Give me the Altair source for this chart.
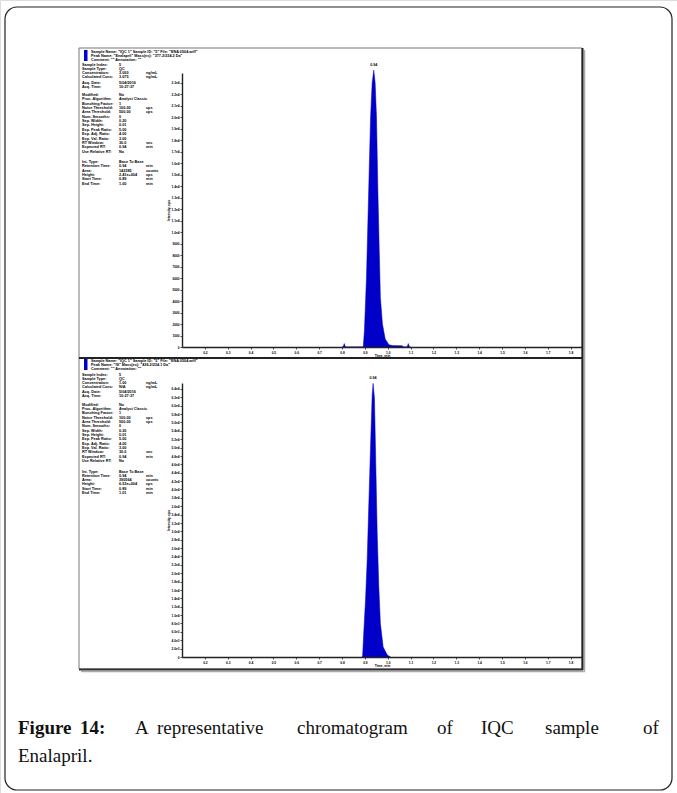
import altair as alt
import pandas as pd

W, H = 677, 793

# ---------------- data ----------------
x_ticks = [0.2, 0.3, 0.4, 0.5, 0.6, 0.7, 0.8, 0.9, 1.0, 1.1, 1.2, 1.3, 1.4, 1.5, 1.6, 1.7, 1.8]
y_ticks_top = [0, 1000, 2000, 3000, 4000, 5000, 6000, 7000, 8000, 9000, 10000, 11000,
               12000, 13000, 14000, 15000, 16000, 17000, 18000, 19000, 20000, 21000, 22000, 23000]
y_ticks_bot = [0, 2000, 4000, 6000, 8000, 10000, 12000, 14000, 16000, 18000, 20000, 22000,
               24000, 26000, 28000, 30000, 32000, 34000, 36000, 38000, 40000, 42000, 44000,
               46000, 48000, 50000, 52000, 54000, 56000, 58000, 60000, 62000, 64000]

top_time = [0.800, 0.805, 0.810, 0.815, 0.888, 0.893, 0.898, 0.907, 0.913, 0.919, 0.925,
            0.932, 0.939, 0.945, 0.951, 0.957, 0.963, 0.968, 0.977, 0.989, 1.005, 1.020,
            1.064, 1.070, 1.085, 1.090, 1.095, 1.100]
top_int = [0, 0, 300, 0, 0, 0, 1400, 6000, 10700, 15400, 20000,
           23000, 24100, 23000, 20000, 13600, 8400, 4300, 2000, 700, 200, 120,
           100, 0, 0, 300, 0, 0]

bot_time = [0.886, 0.890, 0.895, 0.903, 0.910, 0.917, 0.925, 0.932, 0.936, 0.942, 0.948,
            0.954, 0.961, 0.968, 0.980, 0.998, 1.012]
bot_int = [0, 0, 5600, 13700, 23000, 36000, 50500, 62500, 65300, 61800, 45700,
           29600, 16800, 8000, 2400, 500, 0]

peak_top = {"t": [0.939], "v": [24100], "label": ["0.94"]}
peak_bot = {"t": [0.936], "v": [65300], "label": ["0.94"]}

header_top = [
    'Sample Name: "IQC 1"  Sample ID: "5"  File: "ENA 0504.wiff"',
    'Peak Name: "Enalapril"  Mass(es): "377.2/234.2 Da"',
    'Comment: ""  Annotation: ""',
]
header_bot = [
    'Sample Name: "IQC 1"  Sample ID: "5"  File: "ENA 0504.wiff"',
    'Peak Name: "IS"  Mass(es): "436.2/234.1 Da"',
    'Comment: ""  Annotation: ""',
]
g1_labels = ["Sample Index:", "Sample Type:", "Concentration:", "Calculated Conc:", "Acq. Date:", "Acq. Time:"]
g1_top = ["5", "QC", "3.000", "3.075", "5/04/2016", "10:27:37"]
g1_bot = ["5", "QC", "1.00", "N/A", "5/04/2016", "10:27:37"]
g1_units = ["", "", "ng/mL", "ng/mL", "", ""]

g2_labels = ["Modified:", "Proc. Algorithm:", "Bunching Factor:", "Noise Threshold:", "Area Threshold:",
             "Num. Smooths:", "Sep. Width:", "Sep. Height:", "Exp. Peak Ratio:", "Exp. Adj. Ratio:",
             "Exp. Val. Ratio:", "RT Window:", "Expected RT:", "Use Relative RT:"]
g2_vals = ["No", "Analyst Classic", "1", "100.00", "500.00", "0", "0.20", "0.01", "5.00", "4.00",
           "3.00", "30.0", "0.94", "No"]
g2_units = ["", "", "", "cps", "cps", "", "", "", "", "", "", "sec", "min", ""]

g3_labels = ["Int. Type:", "Retention Time:", "Area:", "Height:", "Start Time:", "End Time:"]
g3_top = ["Base To Base", "0.94", "142385", "2.41e+004", "0.89", "1.00"]
g3_bot = ["Base To Base", "0.94", "390564", "6.53e+004", "0.89", "1.01"]
g3_units = ["", "min", "counts", "cps", "min", "min"]

cap_words_1 = ["Figure", "14:", "A", "representative", "chromatogram", "of", "IQC", "sample", "of"]
cap_bold_1 = [True, True, False, False, False, False, False, False, False]
cap_line_2 = "Enalapril."

BLUE = "#0000C8"
one = pd.DataFrame({"k": [0]})


# ---------------- helpers ----------------
def rect(x, x2, y, y2, **kw):
    return alt.Chart(one).mark_rect(**kw).encode(
        x=alt.value(x), x2=alt.value(x2), y=alt.value(y), y2=alt.value(y2))


def hrule(x, x2, y, color, w):
    return alt.Chart(one).mark_rule(color=color, strokeWidth=w).encode(
        x=alt.value(x), x2=alt.value(x2), y=alt.value(y))


def vrule(x, y, y2, color, w):
    return alt.Chart(one).mark_rule(color=color, strokeWidth=w).encode(
        x=alt.value(x), y=alt.value(y), y2=alt.value(y2))


def sidebar(header, vals1, vals3, dy):
    rows = []
    for i, s in enumerate(header):
        rows.append({"px": 91, "py": 51.5 + 4.0 * i + dy, "s": s})
    g1_y = [65, 69.1, 73.2, 77.3, 82.7, 86.8]
    for i in range(len(g1_labels)):
        y = g1_y[i] + dy
        rows += [{"px": 82, "py": y, "s": g1_labels[i]},
                 {"px": 119, "py": y, "s": vals1[i]},
                 {"px": 146, "py": y, "s": g1_units[i]}]
    for i in range(len(g2_labels)):
        y = 95 + 4.35 * i + dy
        rows += [{"px": 82, "py": y, "s": g2_labels[i]},
                 {"px": 119, "py": y, "s": g2_vals[i]},
                 {"px": 146, "py": y, "s": g2_units[i]}]
    for i in range(len(g3_labels)):
        y = 162 + 4.3 * i + dy
        rows += [{"px": 82, "py": y, "s": g3_labels[i]},
                 {"px": 119, "py": y, "s": vals3[i]},
                 {"px": 146, "py": y, "s": g3_units[i]}]
    df = pd.DataFrame([r for r in rows if r["s"]])
    return alt.Chart(df).mark_text(
        align="left", baseline="middle", fontSize=3.8, fontWeight="bold",
        font="Liberation Sans", color="#000").encode(
        x=alt.X("px:Q", scale=None, axis=None),
        y=alt.Y("py:Q", scale=None, axis=None),
        text="s:N")


def axis_common(**kw):
    base = dict(grid=False, labelFontSize=3.2, labelFont="Liberation Sans", labelFontWeight="bold",
                labelColor="#000", titleFontSize=3.4, titleFont="Liberation Sans",
                titleFontWeight="bold", titleColor="#000", domainColor="#222", domainWidth=1.4,
                tickColor="#222", tickWidth=0.8, tickSize=2, labelPadding=1,
                labelOverlap=False, labelFlush=False, zindex=2)
    base.update(kw)
    return alt.Axis(**base)


def panel(times, ints, peak, yticks, ymax, y0, ytop, label_expr):
    df = pd.DataFrame({"t": times, "v": ints})
    xs = alt.Scale(domain=[0.1, 1.85], range=[182, 582], nice=False, zero=False)
    ys = alt.Scale(domain=[0, ymax], range=[y0, ytop], nice=False)
    x_enc = alt.X("t:Q", scale=xs, axis=axis_common(
        orient="bottom", offset=y0 - H, values=x_ticks, format=".1f",
        title="Time, min", titlePadding=0))
    y_enc = alt.Y("v:Q", scale=ys, axis=axis_common(
        orient="left", offset=-182, values=yticks, labelExpr=label_expr,
        title="Intensity, cps", titlePadding=1))
    area = alt.Chart(df).mark_area(color=BLUE, stroke=BLUE, strokeWidth=0.5,
                                   interpolate="linear").encode(x=x_enc, y=y_enc)
    txt = alt.Chart(pd.DataFrame(peak)).mark_text(
        fontSize=3.6, fontWeight="bold", font="Liberation Sans", dy=-3, color="#000",
        baseline="bottom").encode(x=x_enc, y=y_enc, text="label:N")
    return alt.layer(area, txt)


top_expr = ("datum.value == 0 ? '0' : (datum.value < 10000 ? format(datum.value, 'd') : "
            "replace(format(datum.value, '.1e'), '+', ''))")
bot_expr = "datum.value == 0 ? '0' : replace(format(datum.value, '.1e'), '+', '')"

top_panel = panel(top_time, top_int, peak_top, y_ticks_top, 23850, 347, 73, top_expr)
bot_panel = panel(bot_time, bot_int, peak_bot, y_ticks_bot, 65400, 657, 383, bot_expr)

# ---------------- decorations ----------------
outer = rect(5, 672, 7, 790, fillOpacity=0, stroke="#222", strokeWidth=1.2, cornerRadius=12)
box = rect(79, 582, 48, 669, fill="white", stroke="#777", strokeWidth=1)
shadow_r = vrule(584.5, 50, 671, "#aaa", 1.5)
shadow_b = hrule(81, 585, 671.5, "#aaa", 1.5)
right_edge = vrule(582.5, 48, 670, "#222", 2)
bottom_edge = hrule(79, 583, 669.5, "#333", 2)
divider = hrule(79, 582, 358, "#222", 2)
bar_top = rect(84, 87.5, 50, 61, fill=BLUE)
bar_bot = rect(84, 87.5, 359, 370, fill=BLUE)

side_top = sidebar(header_top, g1_top, g3_top, 0)
side_bot = sidebar(header_bot, g1_bot, g3_bot, 309.5)

cap_x = [18, 80, 135, 157, 297, 437, 481, 545, 643]
caption_layers = []
for w, b, x in zip(cap_words_1, cap_bold_1, cap_x):
    caption_layers.append(
        alt.Chart(one).mark_text(
            text=w, align="left", baseline="alphabetic", fontSize=19,
            font="Liberation Serif", fontWeight="bold" if b else "normal", color="#111"
        ).encode(x=alt.value(x), y=alt.value(734)))
caption_layers.append(
    alt.Chart(one).mark_text(
        text=cap_line_2, align="left", baseline="alphabetic", fontSize=19,
        font="Liberation Serif", color="#111").encode(x=alt.value(18), y=alt.value(762)))

chart = alt.layer(
    outer, shadow_r, shadow_b, box, side_top, side_bot, bar_top, bar_bot,
    top_panel, bot_panel, right_edge, bottom_edge, divider, *caption_layers
).resolve_scale(x="independent", y="independent").resolve_axis(
    x="independent", y="independent"
).properties(
    width=W, height=H, padding=0, autosize=alt.AutoSizeParams(type="none")
).configure_view(strokeWidth=0).configure(background="white")

chart.save("out.html", embed_options={"renderer": "svg", "actions": False})
